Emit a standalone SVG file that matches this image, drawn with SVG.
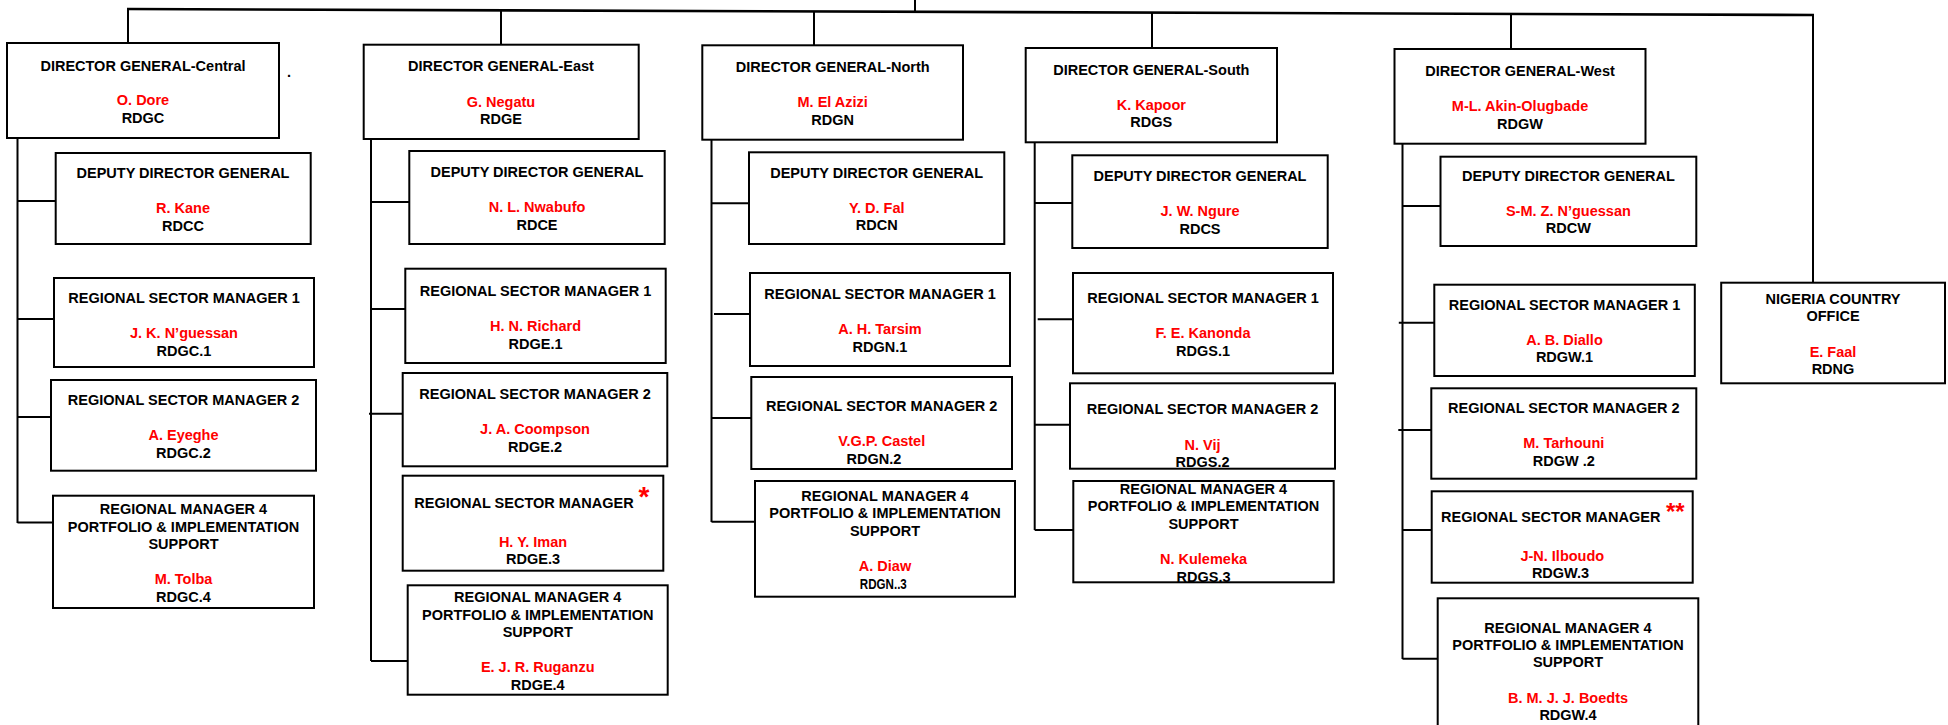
<svg xmlns="http://www.w3.org/2000/svg" width="1948" height="725" viewBox="0 0 1948 725">
<style>
.box{fill:#fff;stroke:#000;stroke-width:2}
.t{font-family:"Liberation Sans",Arial,Helvetica,sans-serif;font-weight:bold;font-size:14.5px;text-anchor:middle;fill:#000}
.n{fill:#f00}
.ast{font-family:"Liberation Sans",Arial,sans-serif;font-weight:bold;fill:#f00;text-anchor:middle}
.c{stroke:#000;stroke-width:2;fill:none}
.top{stroke:#000;stroke-width:2.6;fill:none}
</style>
<rect width="1948" height="725" fill="#fff"/>
<g id="connectors">
<line class="top" x1="127" y1="9" x2="1814" y2="15"/>
<line class="c" x1="915" y1="0" x2="915" y2="12"/>
<line class="c" x1="128" y1="9" x2="128" y2="43"/>
<line class="c" x1="501" y1="10" x2="501" y2="45"/>
<line class="c" x1="814" y1="11" x2="814" y2="45"/>
<line class="c" x1="1152" y1="13" x2="1152" y2="48"/>
<line class="c" x1="1511" y1="14" x2="1511" y2="49"/>
<line class="c" x1="1813" y1="15" x2="1813" y2="283"/>
<!-- Central -->
<line class="c" x1="17.5" y1="138" x2="17.5" y2="523"/>
<line class="c" x1="17.5" y1="201" x2="56" y2="201"/>
<line class="c" x1="17.5" y1="319" x2="54" y2="319"/>
<line class="c" x1="17.5" y1="417" x2="51" y2="417"/>
<line class="c" x1="17.5" y1="522.5" x2="53" y2="522.5"/>
<!-- East -->
<line class="c" x1="371" y1="139" x2="371" y2="661"/>
<line class="c" x1="371" y1="202" x2="409" y2="202"/>
<line class="c" x1="371" y1="309" x2="405" y2="309"/>
<line class="c" x1="369" y1="413.7" x2="403" y2="413.7"/>
<line class="c" x1="371" y1="661" x2="408" y2="661"/>
<!-- North -->
<line class="c" x1="711.5" y1="140" x2="711.5" y2="522"/>
<line class="c" x1="711.5" y1="203.3" x2="749" y2="203.3"/>
<line class="c" x1="714" y1="314" x2="750" y2="314"/>
<line class="c" x1="711.5" y1="418" x2="751" y2="418"/>
<line class="c" x1="711.5" y1="521.7" x2="755" y2="521.7"/>
<!-- South -->
<line class="c" x1="1034.7" y1="142" x2="1034.7" y2="530"/>
<line class="c" x1="1034.7" y1="203" x2="1072" y2="203"/>
<line class="c" x1="1037.7" y1="319.3" x2="1073" y2="319.3"/>
<line class="c" x1="1034.7" y1="424.7" x2="1070" y2="424.7"/>
<line class="c" x1="1034.7" y1="530" x2="1073" y2="530"/>
<!-- West -->
<line class="c" x1="1402.5" y1="144" x2="1402.5" y2="659"/>
<line class="c" x1="1402.5" y1="206" x2="1440" y2="206"/>
<line class="c" x1="1398.8" y1="322.7" x2="1434" y2="322.7"/>
<line class="c" x1="1398.3" y1="430" x2="1431" y2="430"/>
<line class="c" x1="1402.5" y1="530" x2="1436" y2="530"/>
<line class="c" x1="1402.5" y1="658.7" x2="1438" y2="658.7"/>
</g>

<!-- CENTRAL -->
<g id="dg-central">
<rect class="box" x="7" y="43" width="272" height="95"/>
<text class="t" x="143" y="70.5">DIRECTOR GENERAL-Central</text>
<text class="t n" x="143" y="105">O. Dore</text>
<text class="t" x="143" y="123">RDGC</text>
</g>
<text class="t" x="289" y="77">.</text>
<g id="ddg-central">
<rect class="box" x="55.7" y="153" width="255" height="91"/>
<text class="t" x="183" y="178">DEPUTY DIRECTOR GENERAL</text>
<text class="t n" x="183" y="213">R. Kane</text>
<text class="t" x="183" y="231">RDCC</text>
</g>
<g id="rsm1-central">
<rect class="box" x="54" y="278" width="260" height="89"/>
<text class="t" x="184" y="303">REGIONAL SECTOR MANAGER 1</text>
<text class="t n" x="184" y="338">J. K. N’guessan</text>
<text class="t" x="184" y="356">RDGC.1</text>
</g>
<g id="rsm2-central">
<rect class="box" x="51" y="380" width="265" height="90.7"/>
<text class="t" x="183.5" y="405">REGIONAL SECTOR MANAGER 2</text>
<text class="t n" x="183.5" y="440">A. Eyeghe</text>
<text class="t" x="183.5" y="458">RDGC.2</text>
</g>
<g id="rm4-central">
<rect class="box" x="53" y="495.7" width="261" height="112.3"/>
<text class="t" x="183.5" y="514">REGIONAL MANAGER 4</text>
<text class="t" x="183.5" y="531.5">PORTFOLIO &amp; IMPLEMENTATION</text>
<text class="t" x="183.5" y="549">SUPPORT</text>
<text class="t n" x="183.5" y="584">M. Tolba</text>
<text class="t" x="183.5" y="602">RDGC.4</text>
</g>

<!-- EAST -->
<g id="dg-east">
<rect class="box" x="363.7" y="44.7" width="275" height="94.3"/>
<text class="t" x="501" y="71">DIRECTOR GENERAL-East</text>
<text class="t n" x="501" y="107">G. Negatu</text>
<text class="t" x="501" y="124">RDGE</text>
</g>
<g id="ddg-east">
<rect class="box" x="409.3" y="151" width="255.4" height="93"/>
<text class="t" x="537" y="177">DEPUTY DIRECTOR GENERAL</text>
<text class="t n" x="537" y="212">N. L. Nwabufo</text>
<text class="t" x="537" y="230">RDCE</text>
</g>
<g id="rsm1-east">
<rect class="box" x="405.3" y="268.7" width="260.4" height="94.3"/>
<text class="t" x="535.5" y="296">REGIONAL SECTOR MANAGER 1</text>
<text class="t n" x="535.5" y="331">H. N. Richard</text>
<text class="t" x="535.5" y="349">RDGE.1</text>
</g>
<g id="rsm2-east">
<rect class="box" x="402.7" y="373" width="264.6" height="93.3"/>
<text class="t" x="535" y="399">REGIONAL SECTOR MANAGER 2</text>
<text class="t n" x="535" y="434">J. A. Coompson</text>
<text class="t" x="535" y="452">RDGE.2</text>
</g>
<g id="rsm3-east">
<rect class="box" x="402.7" y="475.7" width="260.6" height="95"/>
<text class="t" x="524" y="508">REGIONAL SECTOR MANAGER</text>
<text class="ast" x="644" y="506" font-size="28">*</text>
<text class="t n" x="533" y="547">H. Y. Iman</text>
<text class="t" x="533" y="564">RDGE.3</text>
</g>
<g id="rm4-east">
<rect class="box" x="407.7" y="585.3" width="260" height="109.4"/>
<text class="t" x="537.7" y="602">REGIONAL MANAGER 4</text>
<text class="t" x="537.7" y="620">PORTFOLIO &amp; IMPLEMENTATION</text>
<text class="t" x="537.7" y="637">SUPPORT</text>
<text class="t n" x="537.7" y="672">E. J. R. Ruganzu</text>
<text class="t" x="537.7" y="690">RDGE.4</text>
</g>

<!-- NORTH -->
<g id="dg-north">
<rect class="box" x="702.3" y="45.3" width="260.7" height="94.4"/>
<text class="t" x="832.7" y="72">DIRECTOR GENERAL-North</text>
<text class="t n" x="832.7" y="107">M. El Azizi</text>
<text class="t" x="832.7" y="125">RDGN</text>
</g>
<g id="ddg-north">
<rect class="box" x="749" y="152.3" width="255.3" height="91.7"/>
<text class="t" x="876.7" y="178">DEPUTY DIRECTOR GENERAL</text>
<text class="t n" x="876.7" y="213">Y. D. Fal</text>
<text class="t" x="876.7" y="230">RDCN</text>
</g>
<g id="rsm1-north">
<rect class="box" x="750" y="273" width="260" height="93"/>
<text class="t" x="880" y="299">REGIONAL SECTOR MANAGER 1</text>
<text class="t n" x="880" y="334">A. H. Tarsim</text>
<text class="t" x="880" y="351.7">RDGN.1</text>
</g>
<g id="rsm2-north">
<rect class="box" x="751.3" y="377" width="260.7" height="92"/>
<text class="t" x="881.7" y="411">REGIONAL SECTOR MANAGER 2</text>
<text class="t n" x="881.7" y="446">V.G.P. Castel</text>
<text class="t" x="874" y="464">RDGN.2</text>
</g>
<g id="rm4-north">
<rect class="box" x="755" y="481" width="260" height="115.7"/>
<text class="t" x="885" y="501">REGIONAL MANAGER 4</text>
<text class="t" x="885" y="518">PORTFOLIO &amp; IMPLEMENTATION</text>
<text class="t" x="885" y="536">SUPPORT</text>
<text class="t n" x="885" y="571">A. Diaw</text>
<text class="t" x="883.3" y="589" textLength="47" lengthAdjust="spacingAndGlyphs">RDGN..3</text>
</g>

<!-- SOUTH -->
<g id="dg-south">
<rect class="box" x="1025.7" y="48" width="251.3" height="94.3"/>
<text class="t" x="1151.3" y="75">DIRECTOR GENERAL-South</text>
<text class="t n" x="1151.3" y="110">K. Kapoor</text>
<text class="t" x="1151.3" y="126.7">RDGS</text>
</g>
<g id="ddg-south">
<rect class="box" x="1072.3" y="155.3" width="255.4" height="92.7"/>
<text class="t" x="1200" y="181">DEPUTY DIRECTOR GENERAL</text>
<text class="t n" x="1200" y="216">J. W. Ngure</text>
<text class="t" x="1200" y="234">RDCS</text>
</g>
<g id="rsm1-south">
<rect class="box" x="1073" y="273" width="260" height="100.3"/>
<text class="t" x="1203" y="302.7">REGIONAL SECTOR MANAGER 1</text>
<text class="t n" x="1203" y="337.7">F. E. Kanonda</text>
<text class="t" x="1203" y="355.7">RDGS.1</text>
</g>
<g id="rsm2-south">
<rect class="box" x="1070" y="383.3" width="265" height="85.4"/>
<text class="t" x="1202.5" y="414">REGIONAL SECTOR MANAGER 2</text>
<text class="t n" x="1202.5" y="450">N. Vij</text>
<text class="t" x="1202.5" y="466.7">RDGS.2</text>
</g>
<g id="rm4-south">
<rect class="box" x="1073.3" y="481" width="260.4" height="101.3"/>
<text class="t" x="1203.5" y="493.7">REGIONAL MANAGER 4</text>
<text class="t" x="1203.5" y="510.7">PORTFOLIO &amp; IMPLEMENTATION</text>
<text class="t" x="1203.5" y="529">SUPPORT</text>
<text class="t n" x="1203.5" y="564">N. Kulemeka</text>
<text class="t" x="1203.5" y="581.7">RDGS.3</text>
</g>

<!-- WEST -->
<g id="dg-west">
<rect class="box" x="1394.5" y="49" width="251" height="94.7"/>
<text class="t" x="1520" y="76">DIRECTOR GENERAL-West</text>
<text class="t n" x="1520" y="111">M-L. Akin-Olugbade</text>
<text class="t" x="1520" y="128.7">RDGW</text>
</g>
<g id="ddg-west">
<rect class="box" x="1440.5" y="156.7" width="255.8" height="89.3"/>
<text class="t" x="1568.4" y="181">DEPUTY DIRECTOR GENERAL</text>
<text class="t n" x="1568.4" y="216">S-M. Z. N’guessan</text>
<text class="t" x="1568.4" y="232.7">RDCW</text>
</g>
<g id="rsm1-west">
<rect class="box" x="1434.3" y="284.7" width="260.5" height="91.3"/>
<text class="t" x="1564.5" y="310">REGIONAL SECTOR MANAGER 1</text>
<text class="t n" x="1564.5" y="345">A. B. Diallo</text>
<text class="t" x="1564.5" y="361.7">RDGW.1</text>
</g>
<g id="rsm2-west">
<rect class="box" x="1431.3" y="388.3" width="265" height="90.4"/>
<text class="t" x="1563.8" y="413.3">REGIONAL SECTOR MANAGER 2</text>
<text class="t n" x="1563.8" y="448.3">M. Tarhouni</text>
<text class="t" x="1563.8" y="466">RDGW .2</text>
</g>
<g id="rsm3-west">
<rect class="box" x="1431.7" y="491.3" width="261" height="91.4"/>
<text class="t" x="1550.7" y="522.3">REGIONAL SECTOR MANAGER</text>
<text class="ast" x="1675.3" y="519.5" font-size="24">**</text>
<text class="t n" x="1562.3" y="561">J-N. Ilboudo</text>
<text class="t" x="1560.5" y="577.7">RDGW.3</text>
</g>
<g id="rm4-west">
<rect class="box" x="1437.7" y="598.3" width="260.6" height="130"/>
<text class="t" x="1568" y="632.7">REGIONAL MANAGER 4</text>
<text class="t" x="1568" y="650">PORTFOLIO &amp; IMPLEMENTATION</text>
<text class="t" x="1568" y="667.3">SUPPORT</text>
<text class="t n" x="1568" y="702.7">B. M. J. J. Boedts</text>
<text class="t" x="1568" y="720">RDGW.4</text>
</g>

<!-- NIGERIA -->
<g id="nigeria">
<rect class="box" x="1721.2" y="282.7" width="223.8" height="100.6"/>
<text class="t" x="1833" y="304">NIGERIA COUNTRY</text>
<text class="t" x="1833" y="320.7">OFFICE</text>
<text class="t n" x="1833" y="356.7">E. Faal</text>
<text class="t" x="1833" y="374">RDNG</text>
</g>
</svg>
